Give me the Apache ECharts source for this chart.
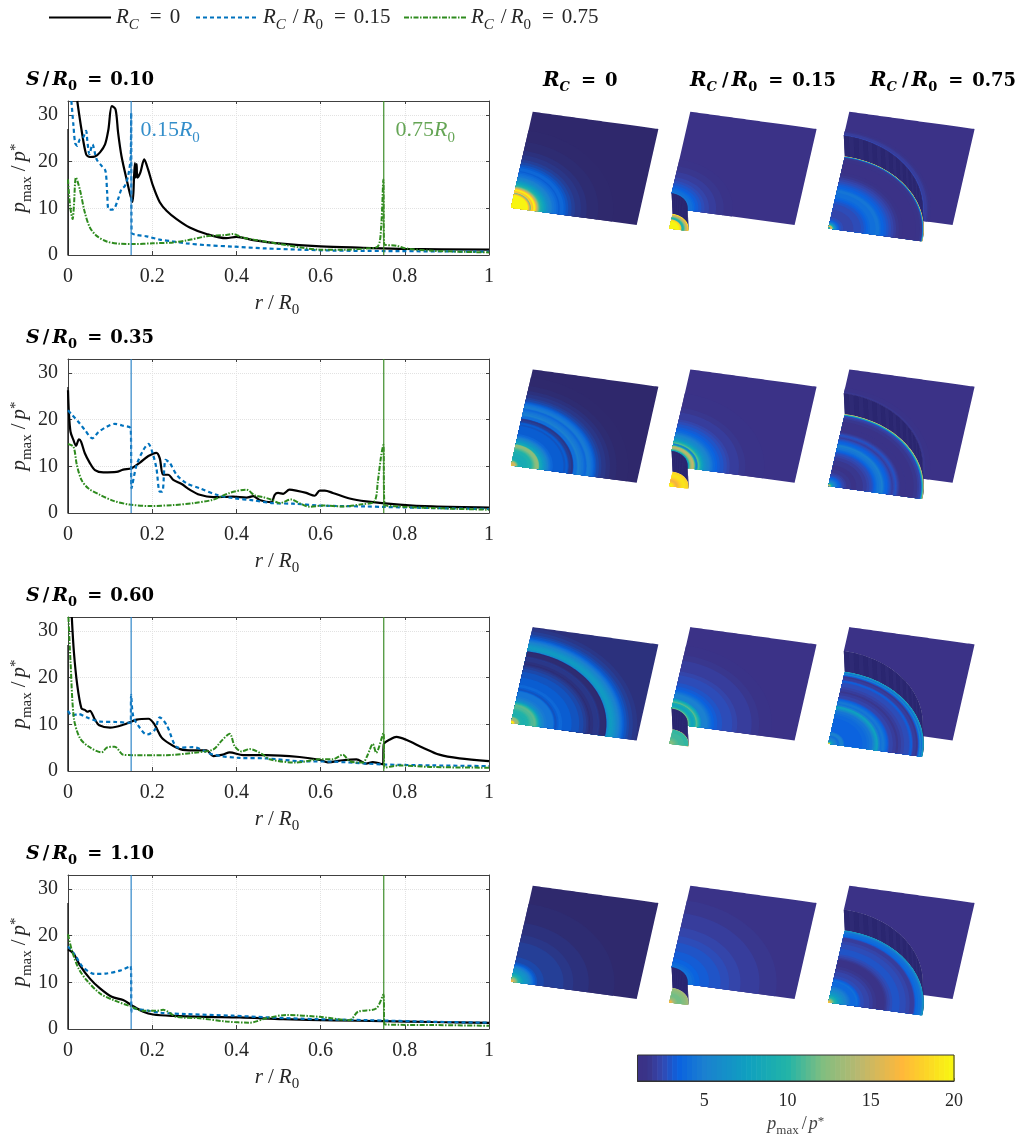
<!DOCTYPE html>
<html><head><meta charset="utf-8">
<style>html,body{margin:0;padding:0;background:#fff}#c{width:1026px;height:1134px}</style>
<script src="https://cdn.jsdelivr.net/npm/echarts@6/dist/echarts.min.js"></script>
</head><body><div id="c"></div>
<script>
// ---------- DATA: [r/R0, pmax/p*] ----------
const s10_rc0 = [[.022,33],[.032,26.9],[.043,21.6],[.052,21],[.064,21.1],[.076,22],[.088,23.7],[.096,26.9],[.104,31.9],[.113,31.2],[.119,26.2],[.127,21.2],[.139,16.3],[.153,11.4],[.157,17],[.159,19.7],[.161,16.6],[.163,19.5],[.165,16.6],[.172,17.7],[.181,20.5],[.19,18.4],[.202,14.8],[.218,11.3],[.234,9.5],[.258,7.7],[.289,5.9],[.329,4.5],[.376,3.6],[.4,3.9],[.44,3.2],[.5,2.5],[.6,1.85],[.7,1.55],[.8,1.3],[1,1.15]];
const s10_rc15 = [[.008,33],[.013,27.7],[.017,24],[.022,23.4],[.028,24.8],[.036,25.2],[.043,26.6],[.046,24.4],[.051,21.6],[.058,23.7],[.068,20.5],[.08,19.1],[.089,18],[.093,13.4],[.097,9.7],[.108,9.8],[.119,12],[.127,14.1],[.135,14.8],[.143,17],[.149,21.2],[.15,30.5],[.151,4.8],[.163,4.3],[.187,4],[.218,3.3],[.25,2.9],[.281,2.5],[.329,2.1],[.392,1.8],[.471,1.4],[.55,1.15],[.63,.95],[.75,.85],[1,.7]];
const s10_rc75 = [[0,16.2],[.005,10.5],[.011,7.7],[.014,10.5],[.019,16.6],[.028,14.1],[.04,9.1],[.052,5.9],[.068,4.1],[.092,2.9],[.123,2.4],[.155,2.35],[.202,2.5],[.25,2.7],[.281,3.1],[.329,4],[.376,4.3],[.392,4.5],[.416,3.7],[.471,2.85],[.519,2.1],[.55,1.65],[.598,1.15],[.66,1.15],[.708,1.4],[.736,1.85],[.744,6.3],[.749,16.2],[.751,2.3],[.78,2],[.803,1.4],[.866,.9],[1,.55]];
const s35_rc0 = [[0,26.3],[.002,21.7],[.006,17.4],[.013,15.6],[.019,14.4],[.026,15.8],[.031,15.3],[.04,12.8],[.052,10.7],[.064,9.2],[.084,8.7],[.115,8.8],[.131,9.3],[.151,9.6],[.171,10.8],[.191,12.2],[.21,12.9],[.218,11.7],[.226,8.2],[.238,8.2],[.25,7.1],[.27,6.2],[.289,5],[.313,3.9],[.345,3.4],[.392,3.5],[.424,3.3],[.44,3.6],[.455,2.8],[.483,2.3],[.491,3.9],[.499,4.3],[.511,4.1],[.526,5],[.542,4.8],[.566,4.3],[.586,3.7],[.598,4.8],[.61,4.8],[.629,4.3],[.669,3.1],[.708,2.5],[.787,1.8],[.866,1.4],[1,1.15]];
const s35_rc15 = [[0,22],[.009,21.1],[.025,19.5],[.04,17.8],[.058,16],[.072,17.3],[.092,18.5],[.111,19.1],[.131,18.7],[.149,18.1],[.151,5.3],[.163,10.3],[.179,13.5],[.191,14.8],[.201,12.8],[.21,9.6],[.218,4.6],[.224,4.6],[.232,11.4],[.242,10.7],[.258,8.2],[.281,6.4],[.313,5.3],[.353,3.9],[.392,3.2],[.44,2.7],[.487,2.1],[.534,2],[.598,1.6],[.708,1.4],[.748,1.3],[.866,1.05],[1,.85]];
const s35_rc75 = [[0,14.8],[.013,14.2],[.021,10.3],[.032,7.1],[.048,5.3],[.076,3.9],[.108,2.6],[.147,1.8],[.194,1.5],[.25,1.7],[.297,2.1],[.345,2.85],[.384,4.3],[.424,5],[.443,3.8],[.463,3.4],[.483,2.85],[.503,2.1],[.53,2.9],[.55,2.1],[.574,1.35],[.606,1.6],[.653,1.4],[.7,1.9],[.728,2.5],[.736,6.8],[.744,12.4],[.749,14.6],[.752,1.8],[.787,1.4],[.866,1.05],[1,.7]];
const s60_rc0 = [[.009,33],[.014,25.5],[.022,18.4],[.032,13.4],[.04,13.1],[.046,12.7],[.052,12.9],[.064,11],[.074,9.8],[.1,9.3],[.131,9.9],[.163,11],[.191,11.2],[.206,9.9],[.222,7.2],[.242,5.8],[.266,4.7],[.297,4.4],[.329,4.4],[.345,3.2],[.368,3.5],[.384,4],[.416,3.4],[.471,3.4],[.55,3],[.598,2.4],[.617,1.85],[.653,2.3],[.685,2.5],[.708,1.6],[.724,1.9],[.748,1.4],[.75,5.7],[.768,6.9],[.78,7.3],[.803,6.7],[.843,5],[.882,3.5],[.93,2.7],[1,2.1]];
const s60_rc15 = [[0,12.9],[.009,11.9],[.025,12.2],[.044,11.5],[.076,10.6],[.115,10.5],[.149,10.3],[.15,16.3],[.155,11.7],[.171,9.2],[.187,7.8],[.206,8.8],[.218,11.5],[.234,9.9],[.262,5],[.297,5.1],[.345,3.5],[.408,2.8],[.471,2.7],[.55,2.1],[.63,2],[.708,1.6],[.748,1.4],[.866,1.2],[1,1.05]];
const s60_rc75 = [[.001,33],[.006,23.4],[.014,11.3],[.028,7.1],[.048,5.3],[.08,4],[.092,5],[.111,5.2],[.131,3.5],[.155,3.4],[.234,3.4],[.297,3.9],[.345,4.6],[.364,6.4],[.384,8],[.396,5.3],[.412,4.2],[.432,4.7],[.463,3.5],[.479,2.5],[.542,1.8],[.598,2.5],[.629,2.5],[.653,3.5],[.669,2.1],[.7,1.8],[.712,3.5],[.724,5.8],[.732,3.9],[.749,8.1],[.752,.7],[.787,1.2],[.866,.85],[1,.7]];
const s110_rc0 = [[0,17.1],[.013,16.2],[.028,13.7],[.052,10.8],[.076,8.7],[.104,6.9],[.131,6.2],[.151,5.1],[.179,3.7],[.202,3.1],[.25,2.8],[.329,2.6],[.408,2.5],[.511,2.1],[.63,1.85],[.748,1.7],[.866,1.5],[1,1.3]];
const s110_rc15 = [[0,17.7],[.017,15.8],[.036,13.2],[.064,11.8],[.092,11.9],[.123,12.5],[.149,13.5],[.151,3.7],[.155,4.4],[.179,4.1],[.218,3.5],[.281,3.2],[.392,2.85],[.471,2.5],[.59,2.1],[.708,1.9],[.866,1.55],[1,1.35]];
const s110_rc75 = [[0,20.3],[.009,16.9],[.025,13],[.044,10.5],[.076,7.6],[.108,6.2],[.147,4.9],[.179,3.9],[.21,3.9],[.226,4.1],[.258,2.6],[.313,2.3],[.376,1.6],[.432,1.35],[.471,2.3],[.519,3],[.598,2.6],[.669,1.9],[.689,3.7],[.732,4.4],[.749,7.4],[.752,1],[.866,.85],[1,.7]];
const capLine15 = [[.15,0],[.15,33]];
const capLine75 = [[.75,0],[.75,33]];
const originLine = [[0,0],[0,27]];
const sTitles = ['0.10','0.35','0.60','1.10'];
const capRadii = [0, .15, .75];
const xTicksStep = .2;
const yTicksStep = 10;
const colorTicks = [5,10,15,20];
// colour map stops: [pmax/p*, colour]
const cmapValues = [1,1.6,1.9,2.5,3.45,5,7.6,10,12.1,14.2,16.9,20];
const cmapColors = ['#3b3287','#3a3488','#383a95','#3349b2','#0a62e0','#1b80d0','#0fa0c0','#22b4a8','#80be80','#b8b870','#ffb83a','#f8f80f'];

// ---------- layout ----------
const rowsData = [[s10_rc0,s10_rc15,s10_rc75],[s35_rc0,s35_rc15,s35_rc75],[s60_rc0,s60_rc15,s60_rc75],[s110_rc0,s110_rc15,s110_rc75]];
const gridTops = [101,359,617,875];
const F = '"Liberation Serif", serif';
const FB = '"DejaVu Serif", serif';
const INK = '#262626';
const COLORS = ['#000000','#0072BD','#2E8B1E'];
const NAMES = ['RC = 0','RC/R0 = 0.15','RC/R0 = 0.75'];
function math(size,color,o){
  o=o||{};
  const fam=o.family||F, w=o.bold?'bold':'normal', lh=Math.round(size*1.45);
  const ep=o.ep===undefined?8:o.ep, sp=o.sp===undefined?4:o.sp, sbp=o.sbp===undefined?3:o.sbp, rs=o.rs||size;
  const base={fontFamily:fam,fontSize:size,color,fontWeight:w,lineHeight:lh};
  const small={fontFamily:fam,fontSize:Math.round(size*.7),color,fontWeight:w,lineHeight:Math.round(size*.74)};
  return {
    i:{...base,fontStyle:'italic'}, n:{...base},
    R:{...base,fontSize:rs,fontStyle:'italic'},
    sl:{...base,padding:[0,sp,0,sp]},
    eq:{...base,padding:[0,ep,0,ep]},
    sub:{...small,verticalAlign:'bottom',padding:[0,sbp,0,0]}, subi:{...small,fontStyle:'italic',verticalAlign:'bottom',padding:[0,sbp,0,0]},
    sup:{...small,verticalAlign:'top',padding:[4,0,0,0]}
  };
}
const strRC0='{R|R}{subi|C}{eq|=}{n|0}';
const strRCx=v=>'{R|R}{subi|C}{sl|/}{R|R}{sub|0}{eq|=}{n|'+v+'}';
const strS=v=>'{R|S}{sl|/}{R|R}{sub|0}{eq|=}{n|'+v+'}';
const pStr='{i|p}{sub|max}{sl|/}{i|p}{sup|*}';
const rStr='{i|r}{sl|/}{R|R}{sub|0}';
const BOLDOPT={family:FB,bold:true,rs:19,ep:8,sp:3,sbp:2};
const BOLDHEAD={family:FB,bold:true,rs:20,ep:9,sp:3,sbp:2};

const LEVELS=64, VMIN=1, VMAX=20;
function hex2(c){return [1,3,5].map(k=>parseInt(c.substr(k,2),16));}
function cmapRGB(v){
  if(v<=cmapValues[0])return hex2(cmapColors[0]);
  for(let i=1;i<cmapValues.length;i++){ if(v<=cmapValues[i]){
    const t=(v-cmapValues[i-1])/(cmapValues[i]-cmapValues[i-1]),a=hex2(cmapColors[i-1]),b=hex2(cmapColors[i]);
    return a.map((x,k)=>x+(b[k]-x)*t);
  }}
  return hex2(cmapColors[cmapColors.length-1]);
}
function levelOf(p){return Math.max(0,Math.min(LEVELS-1,Math.floor((p-VMIN)/(VMAX-VMIN)*LEVELS)));}
function levelColor(l,shade){
  const v=VMIN+(l+.5)*(VMAX-VMIN)/LEVELS;
  let f=1;
  if(shade){ f = v<2.5 ? .8 : v>4 ? 1 : .8+.2*(v-2.5)/1.5; }
  return 'rgb('+cmapRGB(v).map(x=>Math.round(x*f)).join(',')+')';
}
function evalLine(pts,r){
  if(r<=pts[0][0])return pts[0][1];
  for(let i=1;i<pts.length;i++){ if(r<=pts[i][0]){
    const d=pts[i][0]-pts[i-1][0]; return d<=0?pts[i][1]:pts[i-1][1]+(pts[i][1]-pts[i-1][1])*(r-pts[i-1][0])/d;
  }}
  return pts[pts.length-1][1];
}
function bands(pts,rHi,rLo,kind){
  const out=[]; const STEP=.0015; let last=-1;
  for(let r=rHi;r>rLo;r-=STEP){
    const l=levelOf(evalLine(pts,r));
    if(l!==last){out.push([kind,r,l]);last=l;}
  }
  return out;
}
// placement of the tilted plates in the page
const plateOrigins=[[511,207.7],[668.3,207.7],[827.3,207.7]];
const plateDu=[[125.7,17.3],[126.3,17.3],[125.3,17.3]];
const plateDv=[[21.7,-96],[22,-96],[22,-96]];
const rowShift=[0,257.7,515.4,774];
const dropVec=[1,20.7];

const grid=[],xAxis=[],yAxis=[],series=[],title=[];
const AX='#404040';
const axisCommon={axisLine:{onZero:false,lineStyle:{color:AX,width:1}},axisTick:{inside:true,length:4,lineStyle:{color:AX,width:1}}};
const dotted={show:true,lineStyle:{color:'#e2e2e2',type:'dotted',width:1}};
gridTops.forEach((top,i)=>{
  grid.push({left:68,top,width:421,height:154,show:false,outerBoundsMode:'none'});
  xAxis.push({type:'value',gridIndex:i,min:0,max:1,interval:xTicksStep,position:'bottom',...axisCommon,
    axisLabel:{color:INK,fontFamily:F,fontSize:20,margin:12},
    splitLine:dotted,
    name:rStr,nameLocation:'middle',nameGap:33,nameTextStyle:{rich:math(21,INK,{sp:5})}});
  yAxis.push({type:'value',gridIndex:i,min:0,max:33,interval:yTicksStep,position:'left',...axisCommon,
    axisLabel:{color:INK,fontFamily:F,fontSize:20,margin:10,showMaxLabel:false,padding:[3,0,0,0]},
    splitLine:dotted,
    name:pStr,nameLocation:'middle',nameGap:33,nameRotate:90,nameTextStyle:{rich:math(21,INK,{sbp:1})}});
});
gridTops.forEach((top,i)=>{
  xAxis.push({type:'value',gridIndex:i,min:0,max:1,interval:xTicksStep,position:'top',...axisCommon,axisTick:{inside:true,length:3,lineStyle:{color:AX}},axisLabel:{show:false},splitLine:{show:false}});
  yAxis.push({type:'value',gridIndex:i,min:0,max:33,interval:yTicksStep,position:'right',...axisCommon,axisTick:{inside:true,length:3,lineStyle:{color:AX}},axisLabel:{show:false},splitLine:{show:false}});
});
const lineStyles=[
  {color:COLORS[0],width:2.2},
  {color:COLORS[1],width:2.2,type:[4,3]},
  {color:COLORS[2],width:2,type:[5,1.5,1.5,1.5]}];
rowsData.forEach((row,i)=>{
  series.push({type:'line',name:'origin'+i,xAxisIndex:i,yAxisIndex:i,data:originLine,symbol:'none',lineStyle:{color:'#222',width:1.4},silent:true});
  row.forEach((pts,k)=>{
    series.push({type:'line',name:NAMES[k],xAxisIndex:i,yAxisIndex:i,data:pts,symbol:'none',smooth:.3,
      lineStyle:lineStyles[k],itemStyle:{color:COLORS[k]},silent:true,z:3+k});
  });
  [[capLine15,'#2F86C8'],[capLine75,'#3E8E2A']].forEach(([pts,c],k)=>{
    series.push({type:'line',name:'cap'+i+k,xAxisIndex:i,yAxisIndex:i,data:pts,symbol:'none',lineStyle:{color:c,width:1.2},silent:true,z:6});
  });
  title.push({text:strS(sTitles[i]),left:26,top:gridTops[i]-34,padding:0,textStyle:{rich:math(18,'#000',BOLDOPT)}});
});
// labels of the cap radii
[[.172,26.8,'0.15','#0072BD'],[.778,26.8,'0.75','#3E8E2A']].forEach(([x,y,v,c],k)=>{
  series.push({type:'scatter',name:'capLabel'+k,xAxisIndex:0,yAxisIndex:0,data:[[x,y]],symbolSize:0,silent:true,
    label:{show:true,position:'right',distance:0,formatter:'{n|'+v+'}{R|R}{sub|0}',rich:math(22,c)}});
});
// column headings
[[543,strRC0],[690,strRCx('0.15')],[870,strRCx('0.75')]].forEach(([l,s])=>{
  title.push({text:s,left:l,top:68,padding:0,textStyle:{rich:math(18,'#000',BOLDHEAD)}});
});

// scene grid for tilted plates
const sceneIdx=gridTops.length*2;
grid.push({left:0,top:0,width:1026,height:1134,show:false,outerBoundsMode:'none'});
xAxis.push({type:'value',gridIndex:4,min:0,max:1026,show:false});
yAxis.push({type:'value',gridIndex:4,min:0,max:1134,inverse:true,show:false});

rowsData.forEach((row,ri)=>{
  row.forEach((pts,ci)=>{
    const RC=capRadii[ci];
    const O=[plateOrigins[ci][0],plateOrigins[ci][1]+rowShift[ri]],du=plateDu[ci],dv=plateDv[ci];
    const data=[];
    if(RC===0){
      bands(pts,1.43,0,0).forEach(b=>data.push(b));
    }else{
      const outer=pts.filter(p=>p[0]>RC), inner=pts.filter(p=>p[0]<=RC);
      bands(outer,1.43,RC,0).forEach(b=>data.push(b));
      data.push([1,RC,0]);                // cavity wall, base
      for(let a=0;a<30;a++)data.push([2,RC,a]); // wall shading
      bands(inner,RC,0,3).forEach(b=>data.push(b)); // recessed floor
    }
    series.push({type:'custom',name:'plate'+ri+ci,coordinateSystem:'cartesian2d',xAxisIndex:sceneIdx,yAxisIndex:sceneIdx,
      data,silent:true,animation:false,clip:false,progressive:0,z:2,
      encode:{x:1,y:1},
      renderItem:(params,api)=>{
        const kind=api.value(0),r=api.value(1),v=api.value(2);
        const proj=(u,w,drop)=>{
          const X=O[0]+u*du[0]+w*dv[0]+(drop?dropVec[0]:0), Y=O[1]+u*du[1]+w*dv[1]+(drop?dropVec[1]:0);
          return api.coord([X,Y]);
        };
        const polar=(rad,a,drop)=>proj(Math.min(1,rad*Math.cos(a)),Math.min(1,rad*Math.sin(a)),drop);
        if(kind===2){
          const a0=v/30*Math.PI/2,a1=(v+1)/30*Math.PI/2;
          const p=[polar(r,a0,false),polar(r,a1,false),polar(r,a1,true),polar(r,a0,true)];
          const fill=v<2?'#161d4a':(v%2?'#2a2670':'#2e2a75');
          return {type:'polygon',shape:{points:p},style:{fill}};
        }
        const N=Math.max(16,Math.round(r*90)),p=[];
        if(kind===1){
          for(let k=0;k<=N;k++)p.push(polar(r,k/N*Math.PI/2,false));
          for(let k=N;k>=0;k--)p.push(polar(r,k/N*Math.PI/2,true));
          return {type:'polygon',shape:{points:p},style:{fill:'#2a2670'}};
        }
        const drop=kind===3;
        for(let k=0;k<=N;k++)p.push(polar(r,k/N*Math.PI/2,drop));
        if(kind===0&&RC>0){
          const M=Math.max(16,Math.round(RC*90));
          for(let k=M;k>=0;k--)p.push(polar(RC,k/M*Math.PI/2,false));
        }else{
          p.push(proj(0,0,drop));
        }
        return {type:'polygon',shape:{points:p},style:{fill:levelColor(v,ci===0)}};
      }
    });
  });
});

// colour bar
const cbIdx=sceneIdx+1;
grid.push({left:637.5,top:1055,width:316.5,height:26,show:true,borderColor:'#333',borderWidth:1,backgroundColor:'transparent',z:5,outerBoundsMode:'none'});
xAxis.push({type:'value',gridIndex:5,min:VMIN,max:VMAX,position:'bottom',
  axisLine:{show:true,onZero:false,lineStyle:{color:'#333'}},
  axisTick:{show:true,inside:true,length:3,customValues:colorTicks,lineStyle:{color:'#333'}},
  axisLabel:{show:true,customValues:colorTicks,color:INK,fontFamily:F,fontSize:18,margin:11},
  splitLine:{show:false},name:pStr,nameLocation:'middle',nameGap:27,nameTextStyle:{rich:math(18,'#444',{sp:2,sbp:1})}});
yAxis.push({type:'value',gridIndex:5,min:0,max:1,show:false});
const colorBarCells=[];for(let l=0;l<LEVELS;l++)colorBarCells.push([l]);
series.push({type:'custom',name:'colorbar',xAxisIndex:cbIdx,yAxisIndex:cbIdx,data:colorBarCells,silent:true,animation:false,clip:true,progressive:0,encode:{x:0},
  renderItem:(params,api)=>{
    const l=api.value(0),w=(VMAX-VMIN)/LEVELS;
    const a=api.coord([VMIN+l*w,1]),b=api.coord([VMIN+(l+1)*w,0]);
    return {type:'rect',shape:{x:a[0],y:a[1],width:b[0]-a[0]+.6,height:b[1]-a[1]},style:{fill:levelColor(l,false)}};
  }});

// legends
const legendPos=[[48,strRC0],[195,strRCx('0.15')],[403,strRCx('0.75')]];
const legend=legendPos.map((lp,k)=>({show:true,left:lp[0],top:7,data:[NAMES[k]],itemWidth:62,itemHeight:20,
  padding:0,formatter:()=>lp[1],textStyle:{rich:math(21,INK)},itemStyle:{opacity:0,color:'transparent',borderWidth:0},selectedMode:false}));

const chart=echarts.init(document.getElementById('c'),null,{renderer:'canvas',width:1026,height:1134});
chart.setOption({animation:false,backgroundColor:'#fff',grid,xAxis,yAxis,series,title,legend,tooltip:{show:false}});
</script></body></html>
